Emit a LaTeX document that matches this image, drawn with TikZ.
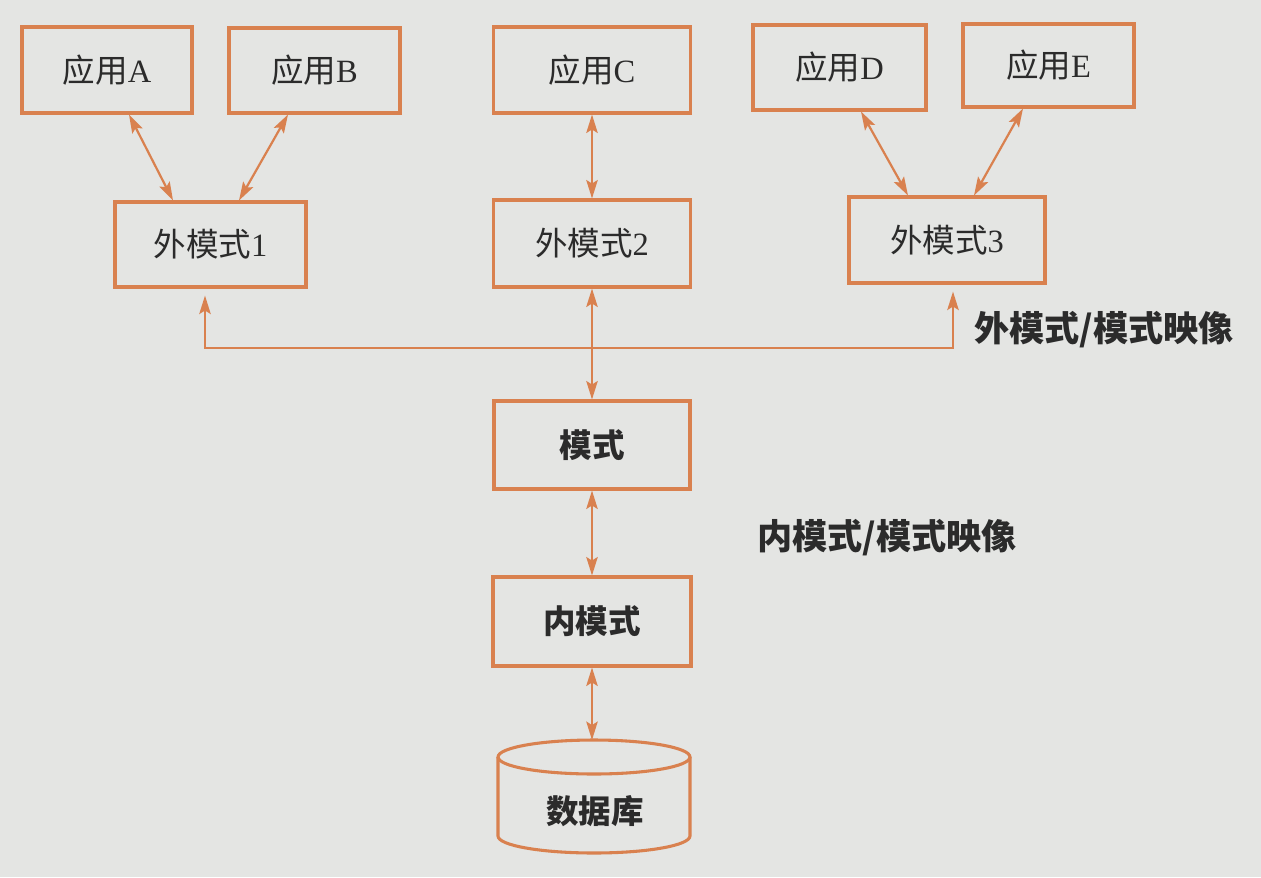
\documentclass[tikz,border=0pt]{standalone}
\usepackage{fontspec}
\setmainfont{Liberation Serif}
\newfontfamily\cjk{Noto Sans CJK SC}
\usetikzlibrary{arrows.meta,calc}
\definecolor{ln}{HTML}{D9814F}
\definecolor{paper}{HTML}{E4E5E3}
\definecolor{ink}{HTML}{2B2B2B}
\begin{document}
\begin{tikzpicture}[x=0.02cm,y=-0.02cm,
  box/.style={draw=ln,line width=1.75pt,inner sep=0pt,text=ink,font=\fontsize{18.5}{18.5}\selectfont},
  bbox/.style={box,font=\fontsize{18.5}{18.5}\selectfont\cjk\bfseries},
  lab/.style={text=ink,inner sep=0pt,font=\fontsize{20}{20}\selectfont\cjk\bfseries},
  arr/.style={draw=ln,line width=1.25pt,{Stealth[length=10.5pt,width=6.5pt,inset=2pt]}-{Stealth[length=10.5pt,width=6.5pt,inset=2pt]}},
  cyl/.style={draw=ln,line width=1.75pt}]
\fill[paper] (0,0) rectangle (1261,877);
\useasboundingbox (0,0) rectangle (1261,877);
% application boxes
\node[box,minimum width=3.4cm,minimum height=1.72cm] (A) at (107,70) {{\cjk 应用}A};
\node[box,minimum width=3.42cm,minimum height=1.7cm] (B) at (314.5,70.5) {{\cjk 应用}B};
\node[box,minimum width=3.94cm,minimum height=1.72cm] (C) at (592,70) {{\cjk 应用}C};
\node[box,minimum width=3.46cm,minimum height=1.7cm] (D) at (839.5,67.5) {{\cjk 应用}D};
\node[box,minimum width=3.42cm,minimum height=1.66cm] (E) at (1048.5,65.5) {{\cjk 应用}E};
% external schemas
\node[box,minimum width=3.82cm,minimum height=1.7cm] (m1) at (210.5,244.5) {{\cjk 外模式}1};
\node[box,minimum width=3.94cm,minimum height=1.74cm] (m2) at (592,243.5) {{\cjk 外模式}2};
\node[box,minimum width=3.92cm,minimum height=1.72cm] (m3) at (947,240) {{\cjk 外模式}3};
% schema, internal schema
\node[bbox,minimum width=3.92cm,minimum height=1.76cm] (s) at (592,445) {模式};
\node[bbox,minimum width=3.96cm,minimum height=1.78cm] (im) at (592,621.5) {内模式};
% database cylinder
\draw[cyl] (594,757) ellipse [x radius=1.92cm,y radius=0.34cm];
\draw[cyl] (498,757) -- (498,836) arc[start angle=180,end angle=360,x radius=1.92cm,y radius=0.34cm] -- (690,757);
\node[text=ink,inner sep=0pt,font=\fontsize{18.5}{18.5}\selectfont\cjk\bfseries] (db) at (595,811) {数据库};
\coordinate (dbtop) at (592,740);
% labels
\node[lab] (l1) at (1104,330) {外模式/模式映像};
\node[lab] (l2) at (887,538) {内模式/模式映像};
% connectors
\draw[arr] ($(A.south)+(22,0)$) -- ($(m1.north)+(-37.5,0)$);
\draw[arr] ($(B.south)+(-26.5,0)$) -- ($(m1.north)+(28.5,0)$);
\draw[arr] (C.south) -- (m2.north);
\draw[arr] ($(D.south)+(21.5,0)$) -- ($(m3.north)+(-39,0)$);
\draw[arr] ($(E.south)+(-25.5,0)$) -- ($(m3.north)+(27,0)$);
\coordinate (j1) at (205,348);
\coordinate (j3) at (953,348);
\draw[arr,shorten <=4pt,shorten >=4pt] ($(m1.south)+(-5.5,0)$) -- (j1) -- (j3) -- ($(m3.south)+(6,0)$);
\draw[arr] (m2.south) -- (s.north);
\draw[arr] (s.south) -- (im.north);
\draw[arr] (im.south) -- (dbtop);
\end{tikzpicture}
\end{document}
